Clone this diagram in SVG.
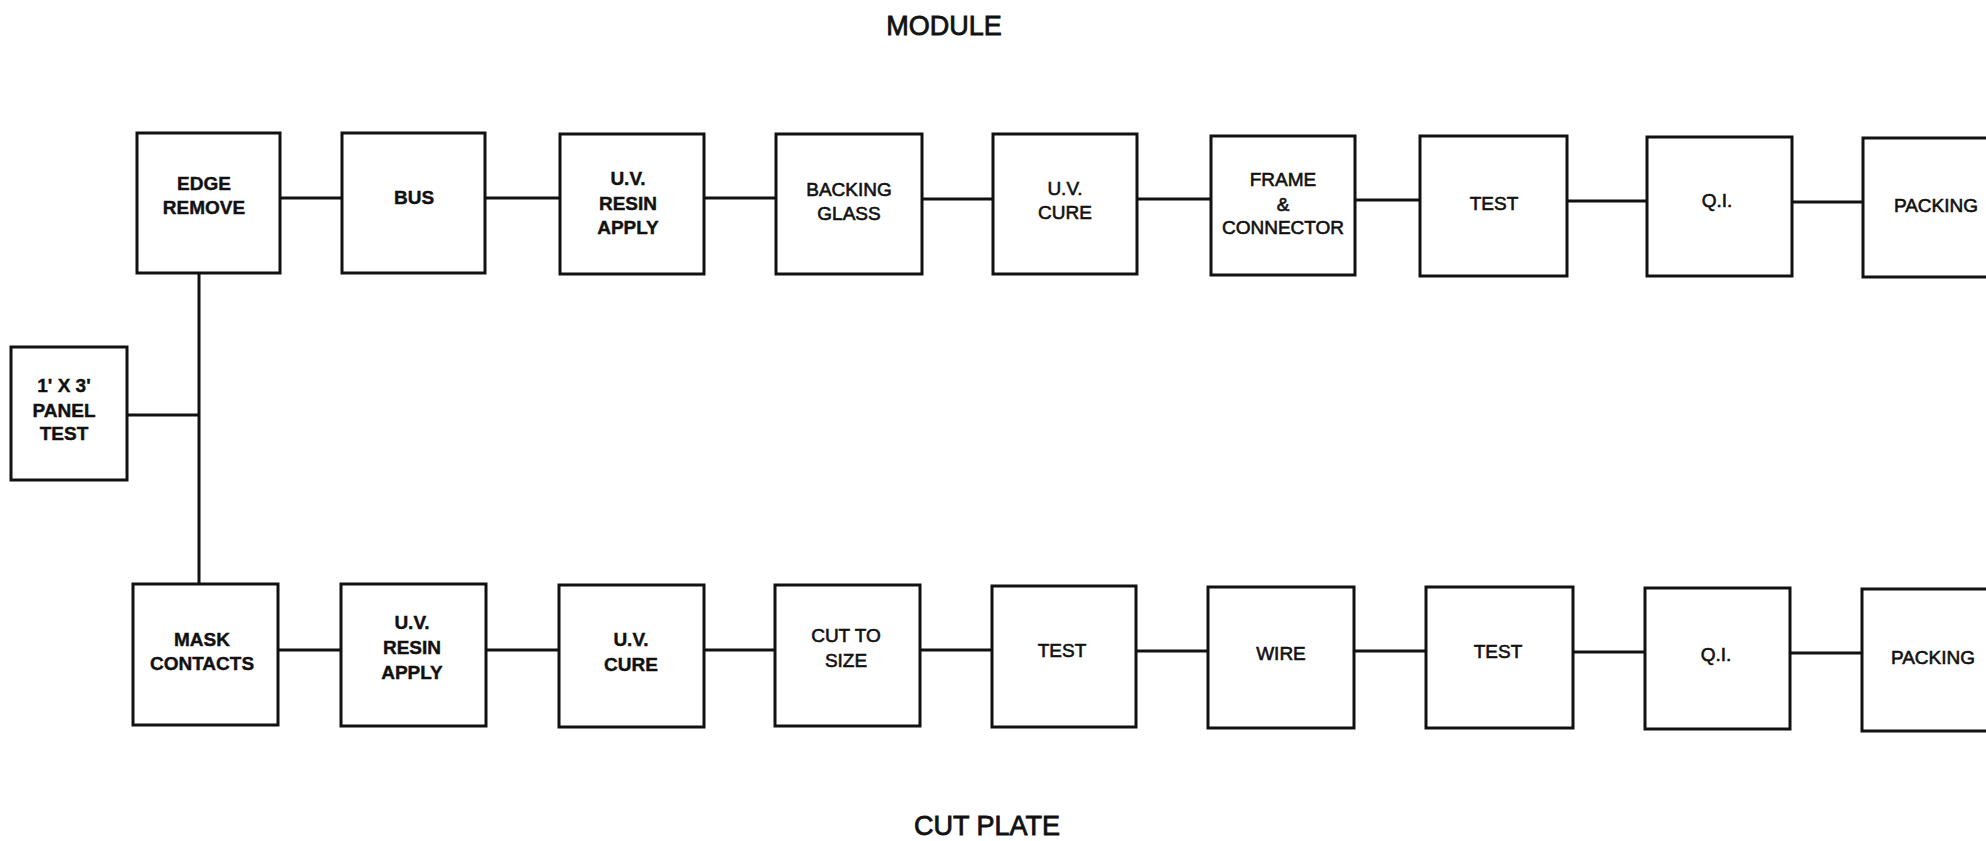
<svg xmlns="http://www.w3.org/2000/svg" width="1986" height="841" viewBox="0 0 1986 841">
<style>
.b{fill:#fff;stroke:#111;stroke-width:3}
.c{stroke:#111;stroke-width:3;fill:none}
text{font-family:"Liberation Sans",Arial,sans-serif;font-size:19px;fill:#111;text-anchor:middle;stroke:#111;stroke-width:0.6}
text.k{font-weight:bold;stroke-width:0.4}
text.t{font-size:27px;stroke-width:0.8}
</style>
<rect width="1986" height="841" fill="#fff"/>
<text class="t" x="944" y="35">MODULE</text>
<text class="t" x="987" y="835">CUT PLATE</text>
<g id="connectors" class="c">
<path d="M280 198H342M485 198H560M704 198H776M922 199H993M1137 199H1211M1355 200H1420M1567 201H1647M1792 202H1862"/>
<path d="M277 650H341M486 650H559M704 650H775M920 650H992M1136 651H1208M1354 651H1426M1572 652H1645M1790 653H1862"/>
<path d="M199 273V584M127 415H199"/>
</g>
<g id="panel"><rect class="b" x="11" y="347" width="116" height="133"/><text class="k" x="64" y="392">1' X 3'</text><text class="k" x="64" y="417">PANEL</text><text class="k" x="64" y="440">TEST</text></g>
<g id="edge"><rect class="b" x="137" y="133" width="143" height="140"/><text class="k" x="204" y="190">EDGE</text><text class="k" x="204" y="214">REMOVE</text></g>
<g id="bus"><rect class="b" x="342" y="133" width="143" height="140"/><text class="k" x="414" y="204">BUS</text></g>
<g id="uvresin1"><rect class="b" x="560" y="134" width="144" height="140"/><text class="k" x="628" y="185">U.V.</text><text class="k" x="628" y="210">RESIN</text><text class="k" x="628" y="234">APPLY</text></g>
<g id="backing"><rect class="b" x="776" y="134" width="146" height="140"/><text x="849" y="196">BACKING</text><text x="849" y="220">GLASS</text></g>
<g id="uvcure1"><rect class="b" x="993" y="134" width="144" height="140"/><text x="1065" y="195">U.V.</text><text x="1065" y="219">CURE</text></g>
<g id="frame"><rect class="b" x="1211" y="136" width="144" height="139"/><text x="1283" y="186">FRAME</text><text x="1283" y="211">&amp;</text><text x="1283" y="234">CONNECTOR</text></g>
<g id="test1"><rect class="b" x="1420" y="136" width="147" height="140"/><text x="1494" y="210">TEST</text></g>
<g id="qi1"><rect class="b" x="1647" y="137" width="145" height="139"/><text x="1717" y="207">Q.I.</text></g>
<g id="packing1"><path class="c" d="M1990 138H1863V277H1990"/><text x="1936" y="212">PACKING</text></g>
<g id="mask"><rect class="b" x="133" y="584" width="145" height="141"/><text class="k" x="202" y="646">MASK</text><text class="k" x="202" y="670">CONTACTS</text></g>
<g id="uvresin2"><rect class="b" x="341" y="584" width="145" height="142"/><text class="k" x="412" y="629">U.V.</text><text class="k" x="412" y="654">RESIN</text><text class="k" x="412" y="679">APPLY</text></g>
<g id="uvcure2"><rect class="b" x="559" y="585" width="145" height="142"/><text class="k" x="631" y="646">U.V.</text><text class="k" x="631" y="671">CURE</text></g>
<g id="cut"><rect class="b" x="775" y="585" width="145" height="141"/><text x="846" y="642">CUT TO</text><text x="846" y="667">SIZE</text></g>
<g id="test2"><rect class="b" x="992" y="586" width="144" height="141"/><text x="1062" y="657">TEST</text></g>
<g id="wire"><rect class="b" x="1208" y="587" width="146" height="141"/><text x="1281" y="660">WIRE</text></g>
<g id="test3"><rect class="b" x="1426" y="587" width="147" height="141"/><text x="1498" y="658">TEST</text></g>
<g id="qi2"><rect class="b" x="1645" y="588" width="145" height="141"/><text x="1716" y="661">Q.I.</text></g>
<g id="packing2"><path class="c" d="M1990 589H1862V731H1990"/><text x="1933" y="664">PACKING</text></g>
</svg>
